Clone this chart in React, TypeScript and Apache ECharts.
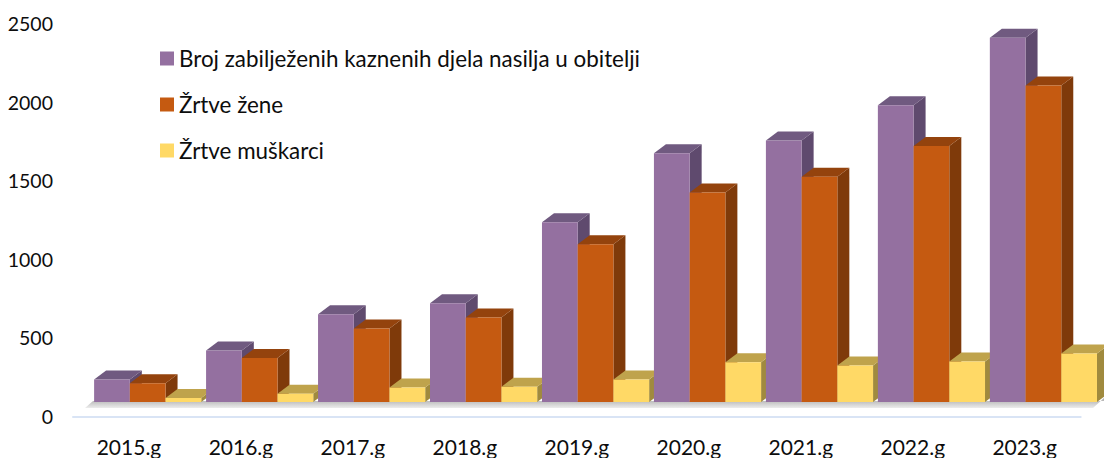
import React, { useEffect, useRef } from "react";
import * as echarts from "echarts";

const years = ["2015.g", "2016.g", "2017.g", "2018.g", "2019.g", "2020.g", "2021.g", "2022.g", "2023.g"];
const offences = [235, 420, 650, 720, 1235, 1675, 1755, 1980, 2410];
const womenVictims = [212, 372, 560, 630, 1095, 1425, 1525, 1720, 2105];
const menVictims = [118, 145, 185, 190, 235, 345, 325, 350, 400];
const names = ["Broj zabilježenih kaznenih djela nasilja u obitelji", "Žrtve žene", "Žrtve muškarci"];
const fronts = ["#9470a0", "#c55a11", "#ffd966"];
const tops = ["#705a80", "#94430d", "#bfa34c"];
const sides = ["#5f4a6e", "#7f3a0a", "#a08a3e"];

const FONT = "Lato";
const DEPTH_X = 12;
const DEPTH_Y = 9;
const SHIFT_X = 18.7;
const SHIFT_Y = 14.5;
const BAR_RATIO = 0.319;

function makeSeries(idx: number, values: number[]) {
  return {
    type: "custom",
    name: names[idx],
    data: values.map((v, i) => [i, v]),
    encode: { x: 0, y: 1 },
    clip: false,
    itemStyle: { color: fronts[idx] },
    renderItem: (params: any, api: any) => {
      const cat = api.value(0);
      const top = api.coord([cat, api.value(1)]);
      const zero = api.coord([cat, 0]);
      const band = api.size([1, 0])[0];
      const w = band * BAR_RATIO;
      const x0 = top[0] + SHIFT_X + (idx - 1.5) * w;
      const x1 = x0 + w;
      const yTop = top[1];
      const yBase = zero[1] - SHIFT_Y;
      const z = cat * 10 + idx * 3 + 10;
      const poly = (points: number[][], fill: string, z2: number) => ({
        type: "polygon",
        z2,
        shape: { points },
        style: { fill },
        silent: true,
      });
      return {
        type: "group",
        children: [
          poly(
            [[x1, yTop], [x1 + DEPTH_X, yTop - DEPTH_Y], [x1 + DEPTH_X, yBase - DEPTH_Y], [x1, yBase]],
            sides[idx],
            z
          ),
          poly(
            [[x0, yTop], [x0 + DEPTH_X, yTop - DEPTH_Y], [x1 + DEPTH_X, yTop - DEPTH_Y], [x1, yTop]],
            tops[idx],
            z + 1
          ),
          poly([[x0, yTop], [x1, yTop], [x1, yBase], [x0, yBase]], fronts[idx], z + 2),
        ],
      };
    },
  };
}

export default function App() {
  const ref = useRef<HTMLDivElement>(null);
  useEffect(() => {
    document.body.style.margin = "0";
    const chart = echarts.init(ref.current!, undefined, { renderer: "svg" });
    chart.setOption({
      animation: false,
      backgroundColor: "#ffffff",
      textStyle: { fontFamily: FONT },
      grid: { left: 73, right: 23.3, top: 23.5, bottom: 41.5, containLabel: false },
      legend: {
        orient: "vertical",
        left: 155,
        top: 42.5,
        itemWidth: 14,
        itemHeight: 14,
        itemGap: 24,
        icon: "rect",
        selectedMode: false,
        data: names,
        textStyle: { fontFamily: FONT, fontSize: 22.4, color: "#0d0d0d", lineHeight: 22 },
      },
      graphic: [
        {
          type: "polygon",
          z: 0,
          silent: true,
          shape: { points: [[93, 401], [1104, 401], [1104, 398], [1093, 408], [85, 408]] },
          style: {
            fill: new echarts.graphic.LinearGradient(0, 0, 0, 1, [
              { offset: 0, color: "#a8a8a8" },
              { offset: 1, color: "#ececec" },
            ]),
          },
        },
      ],
      xAxis: {
        type: "category",
        data: years,
        axisTick: { show: false },
        axisLine: { show: true, lineStyle: { color: "#d9e4f5", width: 2 } },
        axisLabel: { fontFamily: FONT, fontSize: 21, color: "#0d0d0d", margin: 21, lineHeight: 18 },
      },
      yAxis: {
        type: "value",
        min: 0,
        max: 2500,
        interval: 500,
        splitLine: { show: false },
        axisLine: { show: false },
        axisTick: { show: false },
        axisLabel: {
          fontFamily: FONT,
          fontSize: 19.5,
          color: "#0d0d0d",
          margin: 20,
          padding: [0, 0, 5, 0],
          formatter: (v: number) => String(v),
        },
      },
      series: [makeSeries(0, offences), makeSeries(1, womenVictims), makeSeries(2, menVictims)],
    });
    return () => chart.dispose();
  }, []);
  return <div ref={ref} style={{ width: 1104, height: 458 }} />;
}
